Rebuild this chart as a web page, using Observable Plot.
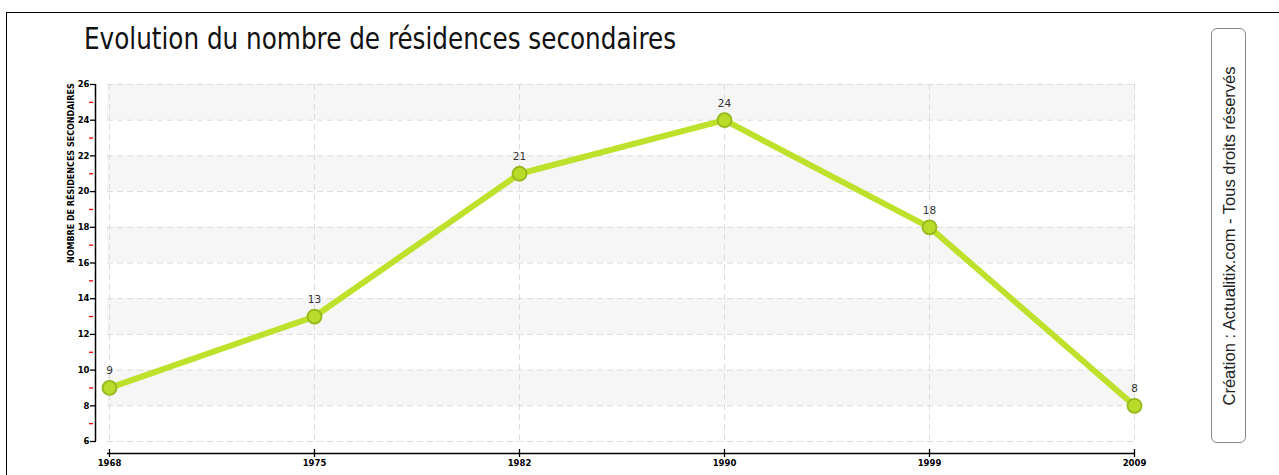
<!DOCTYPE html>
<html>
<head>
<meta charset="utf-8">
<script src="https://cdn.jsdelivr.net/npm/d3@7"></script>
<script src="https://cdn.jsdelivr.net/npm/@observablehq/plot@0.6"></script>
<style>
  html, body { margin: 0; padding: 0; background: #fff; }
  #wrap { position: relative; width: 1279px; height: 475px; overflow: hidden; }
  #border { position: absolute; left: 6px; top: 12px; width: 1290px; height: 480px; border-left: 1.5px solid #000; border-top: 1.5px solid #000; }
  #title { position: absolute; left: 84px; top: 21px; font-family: "DejaVu Sans Condensed", "DejaVu Sans", sans-serif; font-size: 30px; color: #111; white-space: nowrap; transform-origin: 0 0; }
  #credit { position: absolute; left: 1211px; top: 28px; width: 35px; height: 415px; border: 1.2px solid #888; border-radius: 6px; box-sizing: border-box; }
  #credit span { position: absolute; left: 50%; top: 50%; transform: translate(-50%, -50%) rotate(-90deg); white-space: nowrap; font-family: "Liberation Sans", Arial, sans-serif; font-size: 16.5px; color: #222; }
  #chart { position: absolute; left: 0; top: 0; }
</style>
</head>
<body>
<div id="wrap">
  <div id="border"></div>
  <div id="chart"></div>
  <div id="title">Evolution du nombre de résidences secondaires</div>
  <div id="credit"><span>Création : Actualitix.com - Tous droits réservés</span></div>
</div>
<script>
const years = ["1968", "1975", "1982", "1990", "1999", "2009"];
const values = [9, 13, 21, 24, 18, 8];
const majorTicks = [6, 8, 10, 12, 14, 16, 18, 20, 22, 24, 26];
const minorTicks = [7, 9, 11, 13, 15, 17, 19, 21, 23, 25];
const bandStarts = [8, 12, 16, 20, 24];
const yLabel = "NOMBRE DE RÉSIDENCES SECONDAIRES";

const data = years.map((y, i) => ({year: y, value: values[i]}));
const bands = bandStarts.map(b => ({y1: b, y2: b + 2}));
const yAxisLine = [{x: years[0], y1: 6, y2: 26}];

const tickFont = {fontSize: 8.5, fontWeight: "bold", fontFamily: "DejaVu Sans, sans-serif"};

const chart = Plot.plot({
  width: 1279,
  height: 475,
  marginLeft: 107,
  marginRight: 144,
  marginTop: 84,
  marginBottom: 34,
  style: {background: "transparent", overflow: "visible"},
  x: {type: "point", domain: years, padding: 0},
  y: {domain: [6, 26]},
  marks: [
    Plot.rect(bands, {y1: "y1", y2: "y2", fill: "#f6f6f6"}),
    Plot.ruleY(majorTicks, {stroke: "#dcdcdc", strokeDasharray: "6,4"}),
    Plot.ruleX(years, {stroke: "#dcdcdc", strokeDasharray: "6,4"}),
    // y axis line
    Plot.ruleX(yAxisLine, {x: "x", y1: "y1", y2: "y2", dx: -14, stroke: "#000", strokeWidth: 1.5}),
    Plot.axisY({ticks: minorTicks, tickSize: 4, dx: -14, stroke: "#e00", strokeWidth: 1.3, tickFormat: () => "", label: null}),
    Plot.axisY({ticks: majorTicks, tickSize: 6, dx: -11, tickPadding: 1, strokeWidth: 1.3, label: null, ...tickFont, fill: "#000", style: {letterSpacing: "0.8px"}}),
    Plot.text([yLabel], {frameAnchor: "left", rotate: -90, dx: -36, fontSize: 8, fontWeight: "bold", fontFamily: "DejaVu Sans, sans-serif", fill: "#000", style: {letterSpacing: "0.9px"}}),
    // x axis
    Plot.ruleY([6], {dy: 12, stroke: "#000", strokeWidth: 1.5}),
    Plot.axisX({tickSize: 8, dy: 8, tickPadding: 2, strokeWidth: 1.3, label: null, ...tickFont, fill: "#000", style: {letterSpacing: "1px"}}),
    // series
    Plot.line(data, {x: "year", y: "value", stroke: "#bee12c", strokeWidth: 6, strokeLinejoin: "round"}),
    Plot.dot(data, {x: "year", y: "value", r: 7, fill: "#b9dc2a", stroke: "#97b81c", strokeWidth: 1.8}),
    Plot.text(data, {x: "year", y: "value", text: d => String(d.value), dy: -17, fontSize: 10.5, fill: "#333", fontFamily: "DejaVu Sans, sans-serif"})
  ]
});
document.getElementById("chart").appendChild(chart);

// fit the title to the reference width
const title = document.getElementById("title");
const w = title.getBoundingClientRect().width;
title.style.transform = `scaleX(${592 / w})`;
</script>
</body>
</html>
